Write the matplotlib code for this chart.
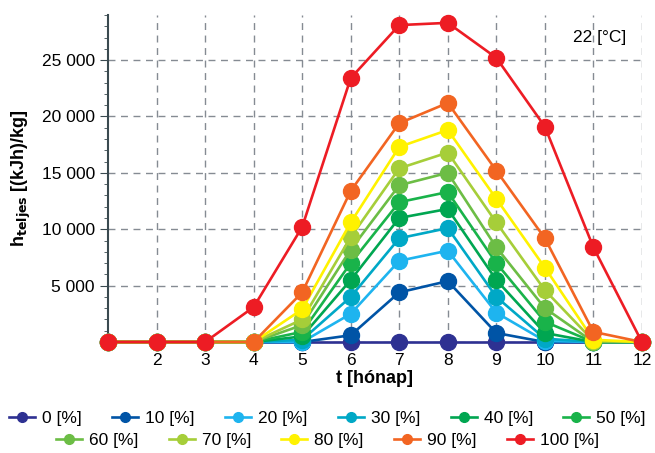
import numpy as np
import matplotlib
matplotlib.use('Agg')
import matplotlib.pyplot as plt
from matplotlib.ticker import MultipleLocator, FuncFormatter
from matplotlib.lines import Line2D

plt.rcParams['font.family'] = ['Liberation Sans', 'DejaVu Sans']

## data
months = [1, 2, 3, 4, 5, 6, 7, 8, 9, 10, 11, 12]
labels = ['0 [%]', '10 [%]', '20 [%]', '30 [%]', '40 [%]', '50 [%]',
          '60 [%]', '70 [%]', '80 [%]', '90 [%]', '100 [%]']
colors = ['#2e3192', '#0054a6', '#1eb4ef', '#00a8c6', '#00a651', '#19b34a',
          '#6cbd45', '#a6ce39', '#fff200', '#f26522', '#ed1c24']

h_0 = [0, 0, 0, 0, 0, 0, 0, 0, 0, 0, 0, 0]
h_10 = [0, 0, 0, 0, 0, 600, 4400, 5400, 800, 0, 0, 0]
h_20 = [0, 0, 0, 0, 0, 2500, 7200, 8100, 2600, 100, 0, 0]
h_30 = [0, 0, 0, 0, 200, 4000, 9200, 10100, 4000, 300, 0, 0]
h_40 = [0, 0, 0, 0, 500, 5500, 11000, 11800, 5500, 800, 0, 0]
h_50 = [0, 0, 0, 0, 900, 7000, 12400, 13300, 7000, 1800, 0, 0]
h_60 = [0, 0, 0, 0, 1500, 8200, 13900, 15000, 8400, 3000, 0, 0]
h_70 = [0, 0, 0, 0, 2000, 9300, 15400, 16800, 10600, 4600, 100, 0]
h_80 = [0, 0, 0, 0, 2900, 10600, 17300, 18800, 12700, 6600, 200, 0]
h_90 = [0, 0, 0, 0, 4400, 13400, 19400, 21200, 15200, 9200, 900, 0]
h_100 = [0, 0, 0, 3100, 10200, 23400, 28100, 28300, 25200, 19100, 8400, 0]
series = [h_0, h_10, h_20, h_30, h_40, h_50, h_60, h_70, h_80, h_90, h_100]

fig = plt.figure(figsize=(6.55, 4.53), dpi=100)
ax = fig.add_axes([0.165, 0.245, 0.815, 0.722])

for vals, col, lab in zip(series, colors, labels):
    ax.plot(months, vals, color=col, lw=1.9, marker='o', markersize=11.5,
            clip_on=False, zorder=3, label=lab)

ax.set_xlim(1, 12)
ax.set_ylim(0, 29000)
ax.set_xticks(range(2, 13))
ax.yaxis.set_major_locator(MultipleLocator(5000))
ax.yaxis.set_minor_locator(MultipleLocator(1000))
ax.yaxis.set_major_formatter(FuncFormatter(
    lambda v, p: '' if v == 0 else f'{int(v):,}'.replace(',', ' ')))
ax.grid(True, ls=(0, (5, 4)), color='#858b93', lw=1.0)
ax.grid(False, which='minor')
for s in ['top', 'right', 'bottom']:
    ax.spines[s].set_visible(False)
ax.spines['left'].set_color('#3a4a50')
ax.spines['left'].set_linewidth(1.5)
ax.tick_params(axis='x', length=0, labelsize=12.5, pad=8)
ax.tick_params(axis='y', which='major', length=6, labelsize=12.5, color='#3a4a50')
ax.tick_params(axis='y', which='minor', length=3, color='#3a4a50')

ax.set_xlabel('t [hónap]', fontsize=13, fontweight='bold', labelpad=1)
ax.set_ylabel(r'h$_{\mathbf{teljes}}$ [(kJh)/kg]', fontsize=13, fontweight='bold', labelpad=6)
ax.text(0.97, 0.955, '22 [°C]', transform=ax.transAxes, ha='right', va='top', fontsize=12.5)

handles = [Line2D([], [], color=c, lw=1.9, marker='o', markersize=7) for c in colors]
fig.legend(handles[:6], labels[:6], ncol=6, loc='center', bbox_to_anchor=(0.5, 0.077),
           frameon=False, fontsize=12.5, handlelength=1.5, columnspacing=1.75, handletextpad=0.4)
fig.legend(handles[6:], labels[6:], ncol=5, loc='center', bbox_to_anchor=(0.5, 0.028),
           frameon=False, fontsize=12.5, handlelength=1.5, columnspacing=1.75, handletextpad=0.4)

fig.savefig('out.png', dpi=100)
